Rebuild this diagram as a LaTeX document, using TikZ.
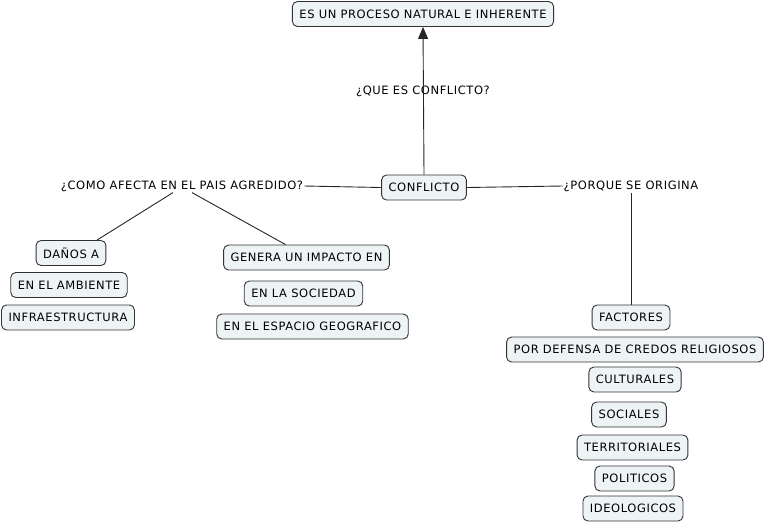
\documentclass[tikz,border=0pt]{standalone}
\usepackage{fontspec}
\setmainfont{DejaVu Sans}[LetterSpace=5]
\usetikzlibrary{arrows.meta}
\definecolor{boxfill}{HTML}{EEF3F6}
\definecolor{boxline}{HTML}{333333}
\tikzset{
  concept/.style={draw=boxline, fill=boxfill, rounded corners=5pt, line width=0.9pt,
    inner xsep=7pt, minimum height=25pt, font=\fontsize{11.5}{13}\selectfont},
  phrase/.style={inner sep=1pt, font=\fontsize{11.5}{13}\selectfont},
  link/.style={draw=black!85, line width=0.9pt},
}
\begin{document}
\begin{tikzpicture}[x=1pt,y=-1pt]
\useasboundingbox (0,0) rectangle (767,523);
\node[concept] (top) at (423,14) {ES UN PROCESO NATURAL E INHERENTE};
\node[phrase] (que) at (423,91) {¿QUE ES CONFLICTO?};
\node[concept] (conf) at (424,187.5) {CONFLICTO};
\node[phrase] (como) at (182,186) {¿COMO AFECTA EN EL PAIS AGREDIDO?};
\node[phrase] (porque) at (631,186) {¿PORQUE SE ORIGINA};
\node[concept] (danos) at (71,253) {DAÑOS A};
\node[concept] (amb) at (69,285) {EN EL AMBIENTE};
\node[concept] (infra) at (68,317.5) {INFRAESTRUCTURA};
\node[concept] (genera) at (306.5,257.5) {GENERA UN IMPACTO EN};
\node[concept] (soc) at (303.5,293.5) {EN LA SOCIEDAD};
\node[concept] (esp) at (312.5,326.5) {EN EL ESPACIO GEOGRAFICO};
\node[concept] (fact) at (631,317.5) {FACTORES};
\node[concept] (credos) at (635,349.5) {POR DEFENSA DE CREDOS RELIGIOSOS};
\node[concept] (cult) at (635,379.5) {CULTURALES};
\node[concept] (socs) at (629,414.5) {SOCIALES};
\node[concept] (terr) at (632.5,447.5) {TERRITORIALES};
\node[concept] (pol) at (634.5,478.5) {POLITICOS};
\node[concept] (ideo) at (633,508.5) {IDEOLOGICOS};
% connectors
\draw[link, -{Triangle[width=10pt,length=12pt]}] (conf.north) -- (top.south);
\draw[link] (conf.west) -- (como.east);
\draw[link] (conf.east) -- (porque.west);
\coordinate (c1) at ([xshift=-9pt]como.south);
\coordinate (c2) at ([xshift=10pt]como.south);
\draw[link] (c1) -- ([xshift=26pt]danos.north);
\draw[link] (c2) -- ([xshift=-21pt]genera.north);
\draw[link] (porque.south) -- (fact.north);
\end{tikzpicture}
\end{document}
